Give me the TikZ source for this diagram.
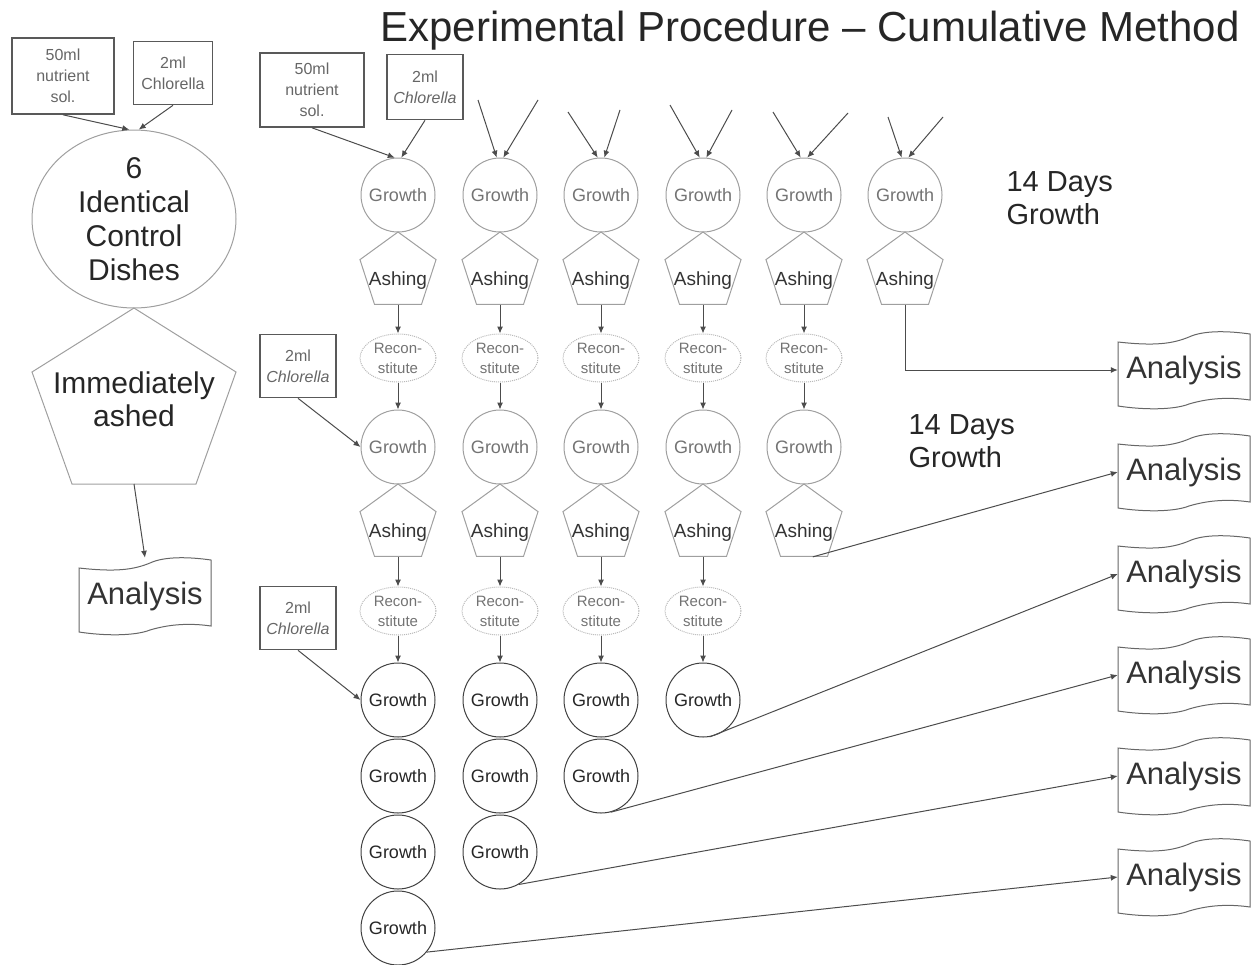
\documentclass[tikz,border=0pt]{standalone}
\usepackage{fontspec}
\setmainfont{Liberation Sans}
\usetikzlibrary{shapes.geometric,arrows.meta}
\begin{document}
\begin{tikzpicture}[x=1pt,y=-1pt,
  growthnode/.style={circle,draw=gray!75,line width=1pt,minimum size=74pt,inner sep=0pt,font=\fontsize{18}{20}\selectfont,text=black!55},
  growthdark/.style={growthnode,draw=black!75,text=black!85},
  ashnode/.style={regular polygon,regular polygon sides=5,minimum size=80pt,inner sep=0pt,draw=gray!75,line width=1pt,font=\fontsize{19}{21}\selectfont,text=black!80},
  reconnode/.style={ellipse,draw=gray!55,densely dotted,line width=1pt,minimum width=76pt,minimum height=48pt,inner sep=0pt,align=center,font=\fontsize{15}{20}\selectfont,text=black!55},
  inbox/.style={rectangle,draw=black!65,line width=1.6pt,align=center,inner sep=0pt,font=\fontsize{16}{21}\selectfont,text=black!60},
  arr/.style={draw=black!70,line width=1pt,-{Latex[length=7pt,width=6pt]}},
  lab/.style={font=\fontsize{29}{33}\selectfont,align=left,text=black!85},
  anal/.style={inner sep=0pt,minimum width=132pt,minimum height=76pt,font=\fontsize{31}{33}\selectfont,text=black!80},
  docline/.style={draw=black!60,line width=1pt},
]
\useasboundingbox (0,0) rectangle (1260,964);

% title
\node[font=\fontsize{42}{46}\selectfont,text=black!85] (title) at (810,31) {Experimental Procedure -- Cumulative Method};

% left column
\node[inbox,text width=102pt,minimum height=76pt] (l50) at (63,76) {50ml\\nutrient\\sol.};
\node[inbox,text width=79pt,minimum height=63pt] (l2) at (173,73) {2ml\\Chlorella};
\node[ellipse,draw=gray!75,line width=1pt,minimum width=204pt,minimum height=178pt,inner sep=0pt,align=center,font=\fontsize{30}{34}\selectfont,text=black!85] (ctrl) at (134,219) {6\\Identical\\Control\\Dishes};
\draw[arr] (l50.south) -- (ctrl.93);
\draw[arr] (l2.south) -- (ctrl.87);
\draw[draw=gray!75,line width=1pt] (134,308) -- (236,372) -- (196,484) -- (72,484) -- (32,372) -- cycle;
\node[align=center,font=\fontsize{30}{33}\selectfont,text=black!85] (imm) at (134,399) {Immediately\\ashed};
\coordinate (pbot) at (134,484);
\node[anal] (an0) at (145,596) {Analysis};
\draw[arr] (pbot) -- (an0.north);

% main top boxes
\node[inbox,text width=104pt,minimum height=74pt] (m50) at (312,90) {50ml\\nutrient\\sol.};
\node[inbox,text width=76pt,minimum height=65pt] (m2) at (425,87) {2ml\\\textit{Chlorella}};
\node[inbox,text width=76pt,minimum height=63pt] (b2) at (298,366) {2ml\\\textit{Chlorella}};
\node[inbox,text width=76pt,minimum height=63pt] (b3) at (298,618) {2ml\\\textit{Chlorella}};

% columns
\foreach \i/\x in {1/398,2/500,3/601,4/703,5/804,6/905}{
  \node[growthnode] (c\i g1) at (\x,195) {Growth};
  \node[ashnode] (c\i a1) at (\x,272) {\raisebox{-13pt}[0pt][0pt]{\makebox[0pt]{Ashing}}};
}
\foreach \i/\x in {1/398,2/500,3/601,4/703,5/804}{
  \node[reconnode] (c\i r1) at (\x,358) {Recon-\\stitute};
  \node[growthnode] (c\i g2) at (\x,447) {Growth};
  \node[ashnode] (c\i a2) at (\x,524) {\raisebox{-13pt}[0pt][0pt]{\makebox[0pt]{Ashing}}};
  \draw[arr] (c\i a1.south) -- (c\i r1.north);
  \draw[arr] (c\i r1.south) -- (c\i g2.north);
}
\foreach \i/\x in {1/398,2/500,3/601,4/703}{
  \node[reconnode] (c\i r2) at (\x,611) {Recon-\\stitute};
  \node[growthdark] (c\i g3) at (\x,700) {Growth};
  \draw[arr] (c\i a2.south) -- (c\i r2.north);
  \draw[arr] (c\i r2.south) -- (c\i g3.north);
}
\foreach \i/\x in {1/398,2/500,3/601}{
  \node[growthdark] (c\i g4) at (\x,776) {Growth};
}
\foreach \i/\x in {1/398,2/500}{
  \node[growthdark] (c\i g5) at (\x,852) {Growth};
}
\node[growthdark] (c1g6) at (398,928) {Growth};

% top inputs
\draw[arr] (m50.south) -- (c1g1.95);
\draw[arr] (m2.south) -- (c1g1.85);
\coordinate (t2a) at (478,100); \coordinate (t2b) at (538,100);
\coordinate (t3a) at (568,112); \coordinate (t3b) at (620,110);
\coordinate (t4a) at (670,105); \coordinate (t4b) at (732,110);
\coordinate (t5a) at (773,112); \coordinate (t5b) at (848,113);
\coordinate (t6a) at (888,117); \coordinate (t6b) at (943,117);
\foreach \i in {2,3,4,5,6}{
  \draw[arr] (t\i a) -- (c\i g1.95);
  \draw[arr] (t\i b) -- (c\i g1.85);
}
\draw[arr] (b2.south) -- (c1g2.west);
\draw[arr] (b3.south) -- (c1g3.west);

% labels
\node[lab,anchor=west] (d1) at (1003,198) {14 Days\\Growth};
\node[lab,anchor=west] (d2) at (905,441) {14 Days\\Growth};

% analysis documents
\node[anal] (an1) at (1184,370) {Analysis};
\node[anal] (an2) at (1184,472) {Analysis};
\node[anal] (an3) at (1184,574) {Analysis};
\node[anal] (an4) at (1184,675) {Analysis};
\node[anal] (an5) at (1184,776) {Analysis};
\node[anal] (an6) at (1184,877) {Analysis};
\foreach \nm in {an0,an1,an2,an3,an4,an5,an6}{
  \begin{scope}[shift={(\nm.center)}]
    \draw[docline] (-66,-28) .. controls (-30,-24) and (-12,-26) .. (5,-33)
      .. controls (20,-40) and (45,-39) .. (66,-36) -- (66,30)
      .. controls (45,27) and (25,28) .. (5,34)
      .. controls (-10,40) and (-40,40) .. (-66,36) -- cycle;
  \end{scope}
}
\draw[arr] (c6a1.south) |- (an1.west);
\draw[arr] (c5a2.-75) -- (an2.west);
\draw[arr] (c4g3.-80) -- (an3.west);
\draw[arr] (c3g4.-75) -- (an4.west);
\draw[arr] (c2g5.-60) -- (an5.west);
\draw[arr] (c1g6.-40) -- (an6.west);
\end{tikzpicture}
\end{document}
